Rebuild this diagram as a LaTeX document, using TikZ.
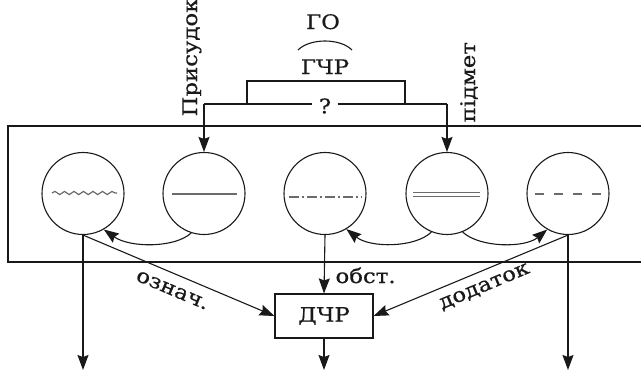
\documentclass[tikz,border=0pt]{standalone}
\usepackage{fontspec}
\setmainfont{DejaVu Serif}[FakeStretch=1.14,FakeBold=0.6]
\usetikzlibrary{arrows.meta,decorations.pathmorphing}
\definecolor{ink}{gray}{0.1}
\definecolor{midgray}{gray}{0.42}
\begin{document}
\begin{tikzpicture}[x=1pt,y=-1pt,line width=1.1pt,draw=ink,
  >={Stealth[length=15pt,width=11pt,inset=2pt]},
  circ/.style={circle,draw=ink,minimum size=82pt,inner sep=0pt},
  lbl/.style={font=\fontsize{20}{23}\selectfont,inner sep=0pt,text=ink},
  innerline/.style={draw=midgray,line width=1.2pt}]
\useasboundingbox (0,0) rectangle (641,370);
% frame
\draw (641,126) -- (8,126) -- (8,262) -- (641,262);
% circles
\node[circ] (c1) at (83,193.5) {};
\node[circ] (c2) at (204,193.5) {};
\node[circ] (c3) at (325,193.5) {};
\node[circ] (c4) at (447,193.5) {};
\node[circ] (c5) at (568,193.5) {};
% inner marks
\draw[innerline,decorate,decoration={snake,segment length=9.5pt,amplitude=1.6pt}] (52,193) -- (117,193);
\draw[innerline] (172,194) -- (237,194);
\draw[innerline,dash pattern=on 10pt off 3pt on 2pt off 3pt] (289,197) -- (362,197);
\draw[innerline,line width=0.9pt] (413,192) -- (480,192);
\draw[innerline,line width=0.9pt] (413,196) -- (480,196);
\draw[innerline,dash pattern=on 9pt off 10pt] (535,194) -- (602,194);
% top bracket
\coordinate (tl) at (204,104);
\coordinate (tr) at (447,104);
\node[lbl,fill=white,inner xsep=6pt] (q) at (325,106) {?};
\draw (tl) -- (q.west |- tl);
\draw (q.east |- tr) -- (tr);
\draw[->] (tl) -- (c2.north);
\draw[->] (tr) -- (c4.north);
\draw (247,104) -- (247,81) -- (405,81) -- (405,104);
\node[lbl,anchor=base] (gchr) at (325,74) {ГЧР};
\node[lbl,anchor=base] (go) at (323,29) {ГО};
\draw (298,50) .. controls (310,38) and (340,38) .. (352,50);
\node[lbl,rotate=90,anchor=base west] (pris) at (197,117) {Присудок};
\node[lbl,rotate=90,anchor=base west] (pidm) at (475,123) {підмет};
% curved arrows
\draw[->] (c2.-108) .. controls (175,248) and (130,248) .. (c1.-60);
\draw[->] (c4.-112) .. controls (415,248) and (370,248) .. (c3.-59);
\draw[->] (c4.-68) .. controls (480,248) and (525,248) .. (c5.-120);
% DCHR
\node[lbl,draw=ink,minimum width=98pt,minimum height=44pt] (dchr) at (324,316) {ДЧР};
\draw[->] (c3.south) -- (dchr.north);
\node[lbl,anchor=base west] (obst) at (335,283) {обст.};
\draw[->] (c1.south) -- node[lbl,sloped,below=10pt] {означ.} (dchr.west);
\draw[->] (c5.south) -- node[lbl,sloped,below=9pt,pos=0.46] {додаток} (dchr.east);
% outputs
\coordinate (o1) at (83,370);
\coordinate (o3) at (324,370);
\coordinate (o5) at (568,370);
\draw[->] (c1.south) -- (o1);
\draw[->] (dchr.south) -- (o3);
\draw[->] (c5.south) -- (o5);
\end{tikzpicture}
\end{document}
